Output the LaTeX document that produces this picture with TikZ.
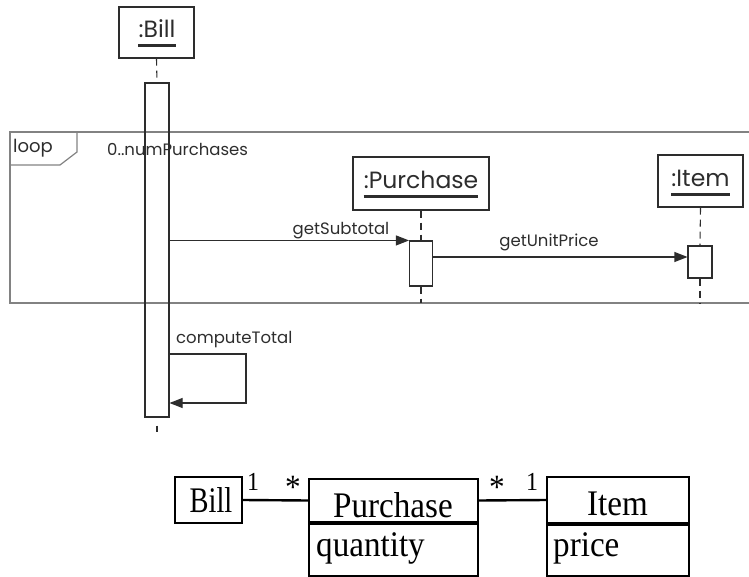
\documentclass[tikz,border=0pt]{standalone}
\usepackage{fontspec}
\setmainfont{Liberation Serif}
\newfontfamily\seqfont{Poppins}
\newfontfamily\classfont[FakeStretch=0.92]{Liberation Serif}
\usetikzlibrary{arrows.meta}

\definecolor{seqline}{RGB}{45,45,45}
\definecolor{framegray}{RGB}{130,130,130}

\tikzset{
  objbox/.style={draw=seqline, line width=1.2pt, inner sep=0pt},
  actbox/.style={draw=seqline, line width=1.1pt, inner sep=0pt},
  objname/.style={font=\seqfont\fontsize{23.5}{24}\selectfont, inner sep=0pt, text=seqline},
  uline/.style={line width=3pt, draw=seqline},
  lifeline/.style={draw=seqline, line width=1.1pt, dash pattern=on 7pt off 5pt},
  msg/.style={draw=seqline, line width=1.1pt, -{Triangle[length=13pt,width=10pt]}},
  msglabel/.style={font=\seqfont\fontsize{16.5}{17}\selectfont, inner sep=0pt, text=seqline},
  framelabel/.style={font=\seqfont\fontsize{18}{18}\selectfont, inner sep=0pt, text=seqline},
  frameline/.style={draw=framegray, line width=1.8pt},
  frametag/.style={draw=framegray, line width=1.2pt},
  classbox/.style={draw=black, line width=2.2pt, inner sep=0pt},
  classtext/.style={font=\classfont\fontsize{36}{36}\selectfont, inner sep=0pt},
  assoc/.style={draw=black, line width=2.4pt},
  mult/.style={font=\classfont\fontsize{26}{26}\selectfont, inner sep=0pt},
  star/.style={font=\classfont\fontsize{34}{34}\selectfont, inner sep=0pt},
}

\begin{document}
\begin{tikzpicture}[x=1pt,y=-1pt]
\useasboundingbox (0,0) rectangle (749,577);

% ---------- loop combined fragment ----------
\coordinate (fTR) at (749,132);
\coordinate (fTL) at (10,132);
\coordinate (fBL) at (10,303);
\coordinate (fBR) at (749,303);
\draw[frameline] (fTR) -- (fTL) -- (fBL) -- (fBR);
\coordinate (tag1) at (77,132);
\coordinate (tag2) at (77,152);
\coordinate (tag3) at (60,165);
\coordinate (tag4) at (10,165);
\draw[frametag] (tag1) -- (tag2) -- (tag3) -- (tag4);
\node[framelabel, anchor=base west] (looplbl) at (13,153) {loop};
\node[msglabel, anchor=base west] (guard) at (107,156) {0..numPurchases};

% ---------- :Bill lifeline ----------
\node[objbox, minimum width=75pt, minimum height=51pt] (billbox) at (156.5,32.5) {};
\node[objname, anchor=base] (billname) at (157,38) {:Bill};
\draw[uline] ([yshift=-8pt]billname.base west) -- ([yshift=-8pt]billname.base east);
\node[actbox, minimum width=24pt, minimum height=334pt] (billact) at (157,250) {};
\coordinate (billend) at (157,432);
\draw[lifeline] (billbox.south) -- (billact.north);
\draw[lifeline, dash pattern=on 0pt off 8pt on 7pt off 5pt] (billact.south) -- (billend);

% ---------- :Purchase lifeline ----------
\node[objbox, minimum width=136pt, minimum height=53pt] (purbox) at (421,183.5) {};
\node[objname, anchor=base] (purname) at (421,189) {:Purchase};
\draw[uline] ([yshift=-8pt]purname.base west) -- ([yshift=-8pt]purname.base east);
\node[actbox, minimum width=23pt, minimum height=45pt] (puract) at (421,263.5) {};
\coordinate (purend) at (421,303);
\draw[lifeline] (purbox.south) -- (puract.north);
\draw[lifeline] (puract.south) -- (purend);

% ---------- :Item lifeline ----------
\node[objbox, minimum width=85pt, minimum height=52pt] (itembox) at (700.5,181) {};
\node[objname, anchor=base] (itemname) at (700.5,187) {:Item};
\draw[uline] ([yshift=-8pt]itemname.base west) -- ([yshift=-8pt]itemname.base east);
\node[actbox, minimum width=24pt, minimum height=32pt] (itemact) at (700,262) {};
\coordinate (itemend) at (700,303);
\draw[lifeline] (itembox.south) -- (itemact.north);
\draw[lifeline] (itemact.south) -- (itemend);

% ---------- messages ----------
\draw[msg] (billact.east |- puract.north) -- (puract.north west);
\node[msglabel, anchor=base] (m1) at (341,235) {getSubtotal};

\coordinate (upy) at (0,257);
\draw[msg] (puract.east |- upy) -- (itemact.west |- upy);
\node[msglabel, anchor=base] (m2) at (549,247) {getUnitPrice};

\coordinate (self1) at (246,354);
\coordinate (self2) at (246,403);
\draw[msg] (billact.east |- self1) -- (self1) -- (self2) -- (billact.east |- self2);
\node[msglabel, anchor=base west] (m3) at (176,343) {computeTotal};

% ---------- class diagram ----------
\node[classbox, minimum width=67pt, minimum height=46pt] (cbill) at (208.5,500) {};
\node[classtext, anchor=base] (cbilltxt) at (211,512) {\scalebox{0.86}[1]{Bill}};

\node[classbox, minimum width=169pt, minimum height=43pt] (cpur) at (393.5,500.5) {};
\node[classbox, minimum width=169pt, minimum height=52pt, anchor=north] (cpuratt) at (cpur.south) {};
\node[classtext, anchor=base] (cpurtxt) at (393,517) {Purchase};
\node[classtext, anchor=base west] (cpurqty) at (316,556) {quantity};

\node[classbox, minimum width=142pt, minimum height=46pt] (citem) at (618,500) {};
\node[classbox, minimum width=142pt, minimum height=51pt, anchor=north] (citematt) at (citem.south) {};
\node[classtext, anchor=base] (citemtxt) at (617.5,515) {Item};
\node[classtext, anchor=base west] (citemprice) at (553,556) {price};

\draw[assoc] (cbill.east) -- (cpur.west);
\draw[assoc] (cpur.east) -- (citem.west);

\node[mult, anchor=base] (mu1) at (253,490) {1};
\node[star] (mu2) at (293,487) {*};
\node[star] (mu3) at (497,487) {*};
\node[mult, anchor=base] (mu4) at (532,490) {1};
\end{tikzpicture}
\end{document}
